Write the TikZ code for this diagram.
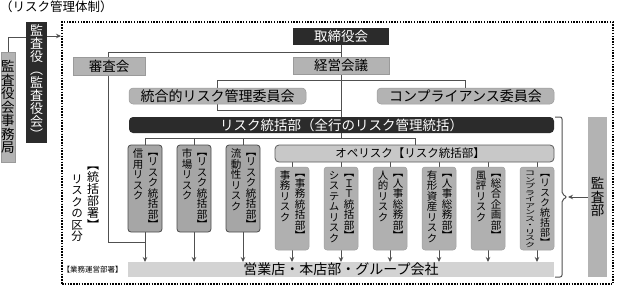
\documentclass[tikz,border=0pt]{standalone}
\usepackage{fontspec}
\usepackage{graphicx}
\setmainfont{Noto Sans CJK JP}
\newfontfamily\vjp[RawFeature=+vert]{Noto Sans CJK JP}
\usetikzlibrary{arrows.meta,backgrounds}
\makeatletter
\def\vs@end{\vs@end}
\newcommand\vstack[1]{\edef\vs@list{#1}\vbox{\offinterlineskip\expandafter\vs@loop\vs@list\vs@end}}
\def\vs@loop#1{\ifx#1\vs@end\else\vs@cell{#1}\expandafter\vs@loop\fi}
\def\vs@cell#1{\hbox to 1em{\hss\vrule height .88em depth .12em width 0pt\smash{#1}\hss}}
\makeatother
\definecolor{dk}{HTML}{2B2B2B}
\definecolor{g1}{HTML}{B3B3B3}
\definecolor{g1d}{HTML}{9A9A9A}
\definecolor{catf}{HTML}{A6A6A6}
\definecolor{catd}{HTML}{4A4A4A}
\definecolor{opef}{HTML}{C8C8C8}
\definecolor{oped}{HTML}{5A5A5A}
\definecolor{subf}{HTML}{B0B0B0}
\definecolor{subd}{HTML}{A0A0A0}
\definecolor{barf}{HTML}{D3D3D3}
\definecolor{ln}{HTML}{505050}
\newcommand\placebox[6]{\node[#1,anchor=north west,minimum width={#4-#2},minimum height={#5-#3}] (#6) at (#2,#3)}
\begin{document}
\begin{tikzpicture}[x=1pt,y=-1pt,
  conn/.style={draw=ln,line width=1pt},
  arr/.style={conn,-{Stealth[length=5pt,width=4.5pt]}},
  dark/.style={fill=dk,text=white,inner sep=0pt,outer sep=0pt},
  gbox/.style={fill=g1,draw=g1d,line width=0.5pt,inner sep=0pt,outer sep=0pt},
  rgbox/.style={gbox,rounded corners=4pt},
  catbox/.style={fill=catf,draw=catd,line width=0.8pt,rounded corners=3pt,inner sep=0pt,outer sep=0pt},
  opebox/.style={fill=opef,draw=oped,line width=0.8pt,rounded corners=4pt,inner sep=0pt,outer sep=0pt},
  subbox/.style={fill=subf,draw=subd,line width=0.5pt,rounded corners=3pt,inner sep=0pt,outer sep=0pt},
  barbox/.style={fill=barf,inner sep=0pt,outer sep=0pt},
  vtxt/.style={inner sep=0pt,outer sep=0pt},
  htxt/.style={font=\fontsize{13.5}{14}\selectfont},
  frame/.style={draw=black,line width=2pt,dash pattern=on 1.5pt off 1.3pt,inner sep=0pt,outer sep=0pt}
]
\useasboundingbox (0,0) rectangle (618,287);

% title
\node[anchor=north west,inner sep=0pt,font=\fontsize{12.5}{13}\selectfont] (title) at (0,1) {（リスク管理体制）};

% frame
\placebox{frame}{62}{22}{613}{284}{frm} {};

% left audit boxes
\placebox{gbox,fill=g1}{1}{52}{15}{162}{jimu} {};
\node[vtxt] (jimuT) at (jimu.center) {\vjp\fontsize{13.5}{14}\selectfont\vstack{監査役会事務局}};
\placebox{dark}{26}{22}{47}{143}{ksy} {};
\node[vtxt,text=white] (ksyT) at (ksy.center) {\vjp\fontsize{13}{14}\selectfont\vstack{監査役（監査役会）}};
\coordinate (jk) at (26,37);
\coordinate (fl) at (61,36);
\coordinate (ksr) at (47,36);

% top boxes
\placebox{dark,htxt}{293}{28}{389}{45}{tor} {取締役会};
\placebox{gbox,htxt}{293}{57}{389}{74}{kei} {経営会議};
\placebox{gbox,htxt}{73}{57}{145}{75}{shn} {審査会};
\placebox{rgbox,font=\fontsize{14}{14}\selectfont}{129}{88}{306}{104}{tog} {統合的リスク管理委員会};
\placebox{rgbox,font=\fontsize{14}{14}\selectfont}{377}{88}{554}{104}{cmp} {コンプライアンス委員会};
\placebox{dark,rounded corners=4pt,font=\fontsize{13.5}{14}\selectfont}{129}{117}{554}{133}{rhq} {リスク統括部（全行のリスク管理統括）};

% category boxes
\foreach \i/\x/\L in {1/128/信用リスク,2/177/市場リスク,3/226/流動性リスク}{
  \placebox{catbox}{\x}{145}{\x+34}{232}{c\i} {};
  \node[vtxt,anchor=north] (cL\i) at (\x+10,148.5) {\vjp\fontsize{10.5}{11}\selectfont\vstack{\L}};
  \node[vtxt,anchor=north] (cR\i) at (\x+25,146) {\vjp\fontsize{10.5}{11}\selectfont\vstack{【リスク統括部】}};
}

% ope risk
\placebox{opebox}{275}{145}{554}{162}{ope} {};
\node[inner sep=0pt,font=\fontsize{11.5}{12}\selectfont] (opeT) at (410,153.5) {オペリスク【リスク統括部】};

\foreach \i/\x/\L/\R/\s/\f in {1/275/事務リスク/【事務統括部】/1/10.5,2/324/システムリスク/【ＩＴ統括部】/1/10.5,3/373/人的リスク/【人事総務部】/1/10.5,4/422/有形資産リスク/【人事総務部】/1/10.5,5/471/風評リスク/【総合企画部】/1/10.5,6/520/コンプライアンス・リスク/【リスク統括部】/0.62/10}{
  \placebox{subbox}{\x}{167}{\x+34}{250}{s\i} {};
  \node[vtxt,anchor=north] (sL\i) at (\x+10,170) {\scalebox{1}[\s]{\vjp\fontsize{10.5}{11}\selectfont\vstack{\L}}};
  \node[vtxt,anchor=north] (sR\i) at (\x+25,167.5) {\vjp\fontsize{\f}{11}\selectfont\vstack{\R}};
}

% bottom bar
\placebox{barbox,font=\fontsize{14}{14}\selectfont}{128}{262}{554}{277}{bar} {営業店・本店部・グループ会社};
\node[inner sep=0pt,font=\fontsize{7.5}{8}\selectfont] (gyo) at (92.5,270) {【業務運営部署】};

% left annotations
\node[vtxt,anchor=north] (annR) at (93,159) {\vjp\fontsize{12}{12}\selectfont\vstack{【統括部署】}};
\node[vtxt,anchor=north] (annL) at (77,173) {\vjp\fontsize{11.5}{12}\selectfont\vstack{リスクの区分}};

% audit dept
\placebox{barbox,fill=g1}{588}{117}{607}{277}{kbu} {};
\node[vtxt] (kbuT) at (597.5,197) {\vjp\fontsize{13.5}{14}\selectfont\vstack{監査部}};

% coordinates for connectors
\coordinate (t52) at (341,52);
\coordinate (l52) at (108,52);
\coordinate (l242) at (108,242);
\coordinate (c242) at (145,242);
\coordinate (a80) at (217,80);
\coordinate (t80) at (341,80);
\coordinate (r80) at (465,80);
\coordinate (a110) at (217,110);
\coordinate (t110) at (341,110);
\coordinate (t138) at (341,138);
\coordinate (l138) at (145,138);
\coordinate (r138) at (415,138);
\coordinate (bt) at (567,197);

\begin{scope}[on background layer]
  \draw[conn] (jimu.north) |- (jk);
  \draw[arr] (ksr) -- (fl);
  \draw[conn] (tor.south) -- (tor.south |- rhq.north);
  \draw[conn] (t52) -- (l52) -- (l242) -- (c242);
  \draw[conn] (a80) -- (r80) -- (r80 |- cmp.north);
  \draw[conn] (a80) -- (a110) -- (t110);
  \draw[conn] (rhq.south -| t138) -- (t138);
  \draw[conn] (l138) -- (r138) -- (r138 |- ope.north);
  \foreach \i in {1,2,3}{
    \draw[conn] (c\i.north |- l138) -- (c\i.north);
    \draw[arr] (c\i.south) -- (c\i.south |- bar.north);
  }
  \foreach \i in {1,...,6}{
    \draw[conn] (s\i.north |- ope.south) -- (s\i.north);
    \draw[arr] (s\i.south) -- (s\i.south |- bar.north);
  }
  \draw[conn,rounded corners=2pt] (555,117) -- (562,117) -- (562,194) -- (bt) -- (562,200) -- (562,277) -- (555,277);
  \draw[arr] (kbu.west |- bt) -- ([xshift=1pt]bt);
\end{scope}
\end{tikzpicture}
\end{document}
